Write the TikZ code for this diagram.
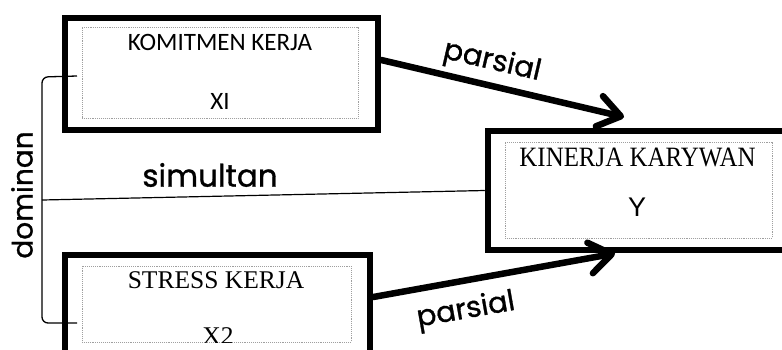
\documentclass[tikz,border=0pt]{standalone}
\usepackage{fontspec}
\setmainfont{Liberation Serif}
\newfontfamily\popfont{Poppins}[FakeBold=1]
\newfontfamily\calfont{Carlito}
\newfontfamily\arsfont{Liberation Sans}
\usetikzlibrary{arrows.meta}
\begin{document}
\begin{tikzpicture}[x=1pt,y=-1pt,
  outerbox/.style={draw=black,line width=6.5pt,inner sep=0pt},
  innerbox/.style={draw=gray!75,line width=0.9pt,densely dotted,inner sep=0pt},
  lbl/.style={font=\popfont\fontsize{29}{31}\selectfont,inner sep=0pt},
  sanstxt/.style={font=\calfont\fontsize{25}{27}\selectfont,inner sep=0pt},
  seriftxt/.style={font=\fontsize{25.5}{27}\selectfont,inner sep=0pt},
  arr/.style={line width=6.5pt,line cap=round,-{Straight Barb[length=22pt,width=31pt,round]}},
  thin/.style={line width=1.3pt},
]
\useasboundingbox (0,0) rectangle (782,349);
\clip (0,0) rectangle (782,349);

% outer boxes
\node[outerbox,minimum width=313pt,minimum height=112pt] (b1) at (221.5,74) {};
\node[outerbox,minimum width=305pt,minimum height=130pt] (b2) at (217.5,320) {};
\node[outerbox,minimum width=320pt,minimum height=119pt] (b3) at (648,190.5) {};

% inner dotted boxes
\node[innerbox,minimum width=276pt,minimum height=91pt] (i1) at (220,72.5) {};
\node[innerbox,minimum width=269pt,minimum height=76pt] (i2) at (216.5,304) {};
\node[innerbox,minimum width=267pt,minimum height=96pt] (i3) at (638.5,190) {};

% texts in boxes
\node[sanstxt] (k1) at (220,42) {KOMITMEN KERJA};
\node[sanstxt] (k2) at (220,101.5) {XI};
\node[seriftxt] (s1) at (216,280) {STRESS KERJA};
\begin{scope}
\clip (82,266) rectangle (351,342);
\node[seriftxt] (s2) at (218,336) {X2};
\end{scope}
\node[font=\fontsize{28}{30}\selectfont,inner sep=0pt,xscale=0.89] (y1) at (637.5,157.5) {KINERJA KARYWAN};
\node[font=\arsfont\fontsize{27}{29}\selectfont,inner sep=0pt] (y2) at (637,207) {Y};

% arrows
\coordinate (tip1) at (624,117);
\coordinate (tip2) at (615,253.5);
\draw[arr] ([yshift=14pt]b1.east) -- (tip1);
\draw[arr] ([yshift=23pt]b2.east) -- (tip2);
\node[lbl,rotate=-13] (p1) at (492,62) {parsial};
\node[lbl,rotate=10] (p2) at (466,311) {parsial};

% bracket and simultan
\coordinate (bt) at (77,76);
\coordinate (bb) at (77,323);
\coordinate (bm) at (42,200);
\draw[thin,rounded corners=6pt] (bt) -- (42,77) -- (42,323) -- (bb);
\draw[line width=1.2pt] (bm) -- (b3.west);
\node[lbl,font=\popfont\fontsize{31}{33}\selectfont] (sim) at (210,175) {simultan};
\node[lbl,font=\popfont\fontsize{28}{30}\selectfont,rotate=90] (dom) at (22,195) {dominan};
\end{tikzpicture}
\end{document}
